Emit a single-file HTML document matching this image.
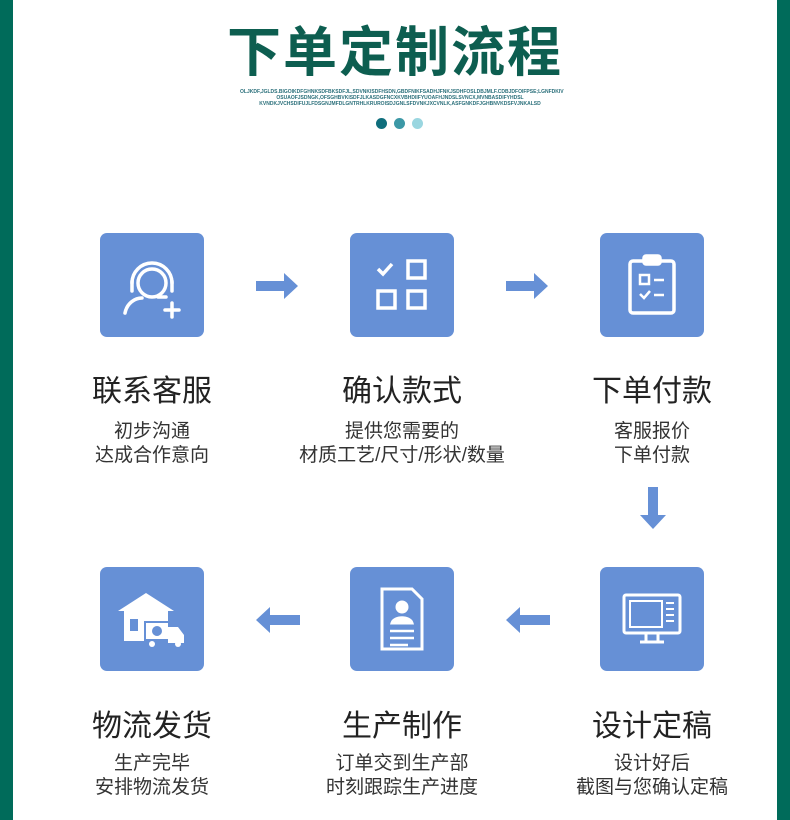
<!DOCTYPE html><html><head><meta charset="utf-8"><style>
body{margin:0;width:790px;height:820px;background:#fff;position:relative;overflow:hidden;font-family:"Liberation Sans","Noto Sans CJK SC",sans-serif}
.bl{position:absolute;top:0;width:13px;height:820px;background:#006b5a}
.box{position:absolute;width:104px;height:104px;background:#6690d6;border-radius:7px}
.box svg{position:absolute;left:0;top:0}
.t{position:absolute;width:250px;text-align:center;font-size:30px;color:#222}
.s{position:absolute;width:250px;text-align:center;font-size:19px;color:#333;line-height:24px}
.sm{position:absolute;left:240px;width:320px;text-align:center;font-size:5px;line-height:6px;color:#2a6f7a;font-weight:bold}
.dot{position:absolute;top:118px;width:11px;height:11px;border-radius:50%}
</style></head><body>
<div class="bl" style="left:0"></div><div class="bl" style="left:777px"></div>
<div style="position:absolute;left:0;width:790px;top:8px;text-align:center;font-size:54px;font-weight:bold;color:#0d5e50;letter-spacing:2px">下单定制流程</div>
<div class="sm" style="top:89px">OLJKDF,JGLDS.BIGOIKDFGHNKSDFBKSDFJL,SDVNKISDFHSDN,GBDFNIKFSADHJFNKJSDHFOSLDBJMLF.CDBJDFOIFPSE;LGNFDKIV OSUAOFJSDNGK,OFSGHBVKISDFJLKASDGFNCXKVBHDIIFYUOAFHJNDSLSVNCX,MVNBASDIFYHDSL KVNDKJVCHSDIFUJLFDSGNJMFDLGNTRHLKRUROISDJGNLSFDVNKJXCVNLK,ASFGNKDFJGHBNVKDSFVJNKALSD</div>
<div class="dot" style="left:376px;background:#0f6e7c"></div><div class="dot" style="left:394px;background:#3c98a6"></div><div class="dot" style="left:412px;background:#9ad6e0"></div>

<div class="box" style="left:100px;top:233px"><svg width="104" height="104" fill="none" stroke="#fff" stroke-width="3.5" stroke-linecap="round"><path d="M32 50a20 20 0 1 1 40 0"/><path d="M32 48v10M72 48v10"/><circle cx="52" cy="50" r="14"/><path d="M58 64h8"/><path d="M25 80c2-10 10-15 17-15"/><path d="M72 70v14M65 77h14"/></svg></div>
<div class="box" style="left:350px;top:233px"><svg width="104" height="104" fill="none" stroke="#fff" stroke-width="3.5"><path d="M28 36l5 5 9-10"/><rect x="58" y="28" width="17" height="17"/><rect x="28" y="58" width="17" height="17"/><rect x="58" y="58" width="17" height="17"/></svg></div>
<div class="box" style="left:600px;top:233px"><svg width="104" height="104" fill="none" stroke="#fff" stroke-width="3.5"><rect x="30" y="28" width="44" height="52" rx="3"/><rect x="44" y="23" width="16" height="8" rx="2" fill="#fff"/><rect x="40" y="42" width="9" height="9" stroke-width="2.5"/><path d="M54 47h10M54 62h10" stroke-width="2.5"/><path d="M40 61l4 4 6-7" stroke-width="2.5"/></svg></div>
<svg style="position:absolute;left:256px;top:272px" width="44" height="28"><path d="M0 9h28V1l14 13-14 13v-8H0z" fill="#6690d6"/></svg>
<svg style="position:absolute;left:506px;top:272px" width="44" height="28"><path d="M0 9h28V1l14 13-14 13v-8H0z" fill="#6690d6"/></svg>
<svg style="position:absolute;left:639px;top:487px" width="28" height="44"><path d="M9 0v28H1l13 14 13-14h-8V0z" fill="#6690d6"/></svg>
<svg style="position:absolute;left:256px;top:606px" width="44" height="28"><path d="M44 9H14V1L0 14l14 13v-8h30z" fill="#6690d6"/></svg>
<svg style="position:absolute;left:506px;top:606px" width="44" height="28"><path d="M44 9H14V1L0 14l14 13v-8h30z" fill="#6690d6"/></svg>

<div class="t" style="left:27px;top:366px">联系客服</div>
<div class="t" style="left:277px;top:366px">确认款式</div>
<div class="t" style="left:527px;top:366px">下单付款</div>
<div class="s" style="left:27px;top:420px">初步沟通<br>达成合作意向</div>
<div class="s" style="left:277px;top:420px">提供您需要的<br>材质工艺/尺寸/形状/数量</div>
<div class="s" style="left:527px;top:420px">客服报价<br>下单付款</div>

<div class="box" style="left:100px;top:567px"><svg width="104" height="104" fill="#fff"><path d="M18 44l28-18 28 18h-6v30H24V44z"/><rect x="30" y="52" width="8" height="12" fill="#6690d6"/><rect x="44" y="54" width="26" height="20" fill="#6690d6"/><rect x="46" y="56" width="22" height="16"/><path d="M68 60h10l6 8v8H68z"/><circle cx="57" cy="64" r="5" fill="#6690d6"/><circle cx="52" cy="77" r="3"/><circle cx="78" cy="77" r="3"/></svg></div>
<div class="box" style="left:350px;top:567px"><svg width="104" height="104" fill="none" stroke="#fff" stroke-width="3"><path d="M32 22h30l10 10v50H32z"/><circle cx="52" cy="40" r="5" fill="#fff"/><path d="M42 56c2-7 18-7 20 0z" fill="#fff"/><path d="M40 64h24M40 71h24M40 78h18" stroke-width="2.5"/></svg></div>
<div class="box" style="left:600px;top:567px"><svg width="104" height="104" fill="none" stroke="#fff" stroke-width="3"><rect x="24" y="28" width="56" height="38" rx="2"/><rect x="30" y="34" width="32" height="26" stroke-width="2"/><path d="M66 36h8M66 42h8M66 48h8M66 54h8" stroke-width="2"/><path d="M46 66v8M58 66v8M40 75h24"/></svg></div>

<div class="t" style="left:27px;top:701px">物流发货</div>
<div class="t" style="left:277px;top:701px">生产制作</div>
<div class="t" style="left:527px;top:701px">设计定稿</div>
<div class="s" style="left:27px;top:752px">生产完毕<br>安排物流发货</div>
<div class="s" style="left:277px;top:752px">订单交到生产部<br>时刻跟踪生产进度</div>
<div class="s" style="left:527px;top:752px">设计好后<br>截图与您确认定稿</div>
</body></html>
